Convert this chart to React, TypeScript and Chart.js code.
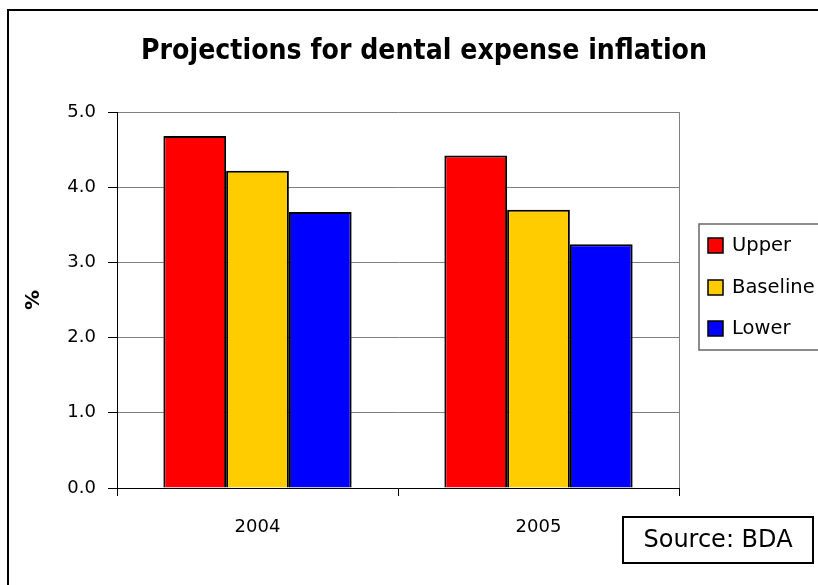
import React, { useEffect, useRef } from "react";
import { Chart, registerables } from "chart.js";

Chart.register(...registerables);

const categories = ["2004", "2005"];
const seriesNames = ["Upper", "Baseline", "Lower"];
const upperValues = [4.68, 4.42];
const baselineValues = [4.22, 3.7];
const lowerValues = [3.67, 3.24];
const seriesColors = ["#FF0000", "#FFCC00", "#0000FF"];
const yMin = 0;
const yMax = 5;
const yStep = 1;
const titleText = "Projections for dental expense inflation";
const yAxisTitle = "%";
const sourceText = "Source: BDA";

const FONT = "'DejaVu Sans', 'Liberation Sans', sans-serif";

const decorPlugin = {
  id: "decor",
  beforeDraw(chart: any) {
    const ctx = chart.ctx;
    ctx.save();
    ctx.fillStyle = "#ffffff";
    ctx.fillRect(0, 0, chart.width, chart.height);
    ctx.restore();
  },
  afterDraw(chart: any) {
    const ctx = chart.ctx;
    const a = chart.chartArea;
    ctx.save();
    // right plot border
    ctx.strokeStyle = "#808080";
    ctx.lineWidth = 1;
    ctx.beginPath();
    ctx.moveTo(Math.round(a.right) + 0.5, a.top);
    ctx.lineTo(Math.round(a.right) + 0.5, a.bottom);
    ctx.stroke();

    // outer frame
    ctx.strokeStyle = "#000000";
    ctx.lineWidth = 2;
    ctx.strokeRect(8, 10, 900, 700);

    // title (fitted to the reference width)
    ctx.fillStyle = "#000000";
    ctx.font = `bold 28px ${FONT}`;
    ctx.textAlign = "center";
    ctx.textBaseline = "alphabetic";
    const tw = ctx.measureText(titleText).width;
    const sx = 566 / tw;
    ctx.save();
    ctx.translate(424, 59);
    ctx.scale(sx, 1);
    ctx.fillText(titleText, 0, 0);
    ctx.restore();

    // y axis title
    ctx.save();
    ctx.translate(34, 300);
    ctx.rotate(-Math.PI / 2);
    ctx.font = `bold 20px ${FONT}`;
    ctx.textAlign = "center";
    ctx.textBaseline = "middle";
    ctx.fillText(yAxisTitle, 0, 0);
    ctx.restore();

    // legend
    ctx.strokeStyle = "#666666";
    ctx.lineWidth = 1.5;
    ctx.strokeRect(699, 224, 200, 126);
    const ys = [245, 287, 328];
    chart.data.datasets.forEach((ds: any, i: number) => {
      const y = ys[i];
      ctx.fillStyle = ds.backgroundColor;
      ctx.fillRect(708, y - 7, 15, 15);
      ctx.strokeStyle = "#000000";
      ctx.lineWidth = 1.5;
      ctx.strokeRect(708, y - 7, 15, 15);
      ctx.fillStyle = "#000000";
      ctx.font = `19.5px ${FONT}`;
      ctx.textAlign = "left";
      ctx.textBaseline = "middle";
      ctx.fillText(ds.label, 732, y + 1);
    });

    // source box
    ctx.strokeStyle = "#000000";
    ctx.lineWidth = 2;
    ctx.strokeRect(623, 517, 190, 46);
    ctx.fillStyle = "#000000";
    ctx.font = `24px ${FONT}`;
    ctx.textAlign = "center";
    ctx.textBaseline = "middle";
    ctx.fillText(sourceText, 718, 541);

    ctx.restore();
  },
};

export default function App() {
  const canvasRef = useRef<HTMLCanvasElement | null>(null);

  useEffect(() => {
    const canvas = canvasRef.current;
    if (!canvas) return;
    const valueSets = [upperValues, baselineValues, lowerValues];
    const chart = new Chart(canvas, {
      type: "bar",
      data: {
        labels: categories,
        datasets: seriesNames.map((name, i) => ({
          label: name,
          data: valueSets[i],
          backgroundColor: seriesColors[i],
          borderColor: "#000000",
          borderWidth: 2,
          categoryPercentage: 0.67,
          barPercentage: 1.0,
        })),
      },
      options: {
        animation: false,
        responsive: false,
        devicePixelRatio: 1,
        layout: { padding: { top: 112, left: 0, right: 139, bottom: 0 } },
        plugins: {
          legend: { display: false },
          title: { display: false },
          tooltip: { enabled: false },
        },
        scales: {
          x: {
            grid: {
              drawOnChartArea: false,
              offset: true,
              tickLength: 8,
              tickColor: "#000000",
            },
            border: { color: "#000000", width: 1 },
            ticks: {
              color: "#000000",
              font: { family: FONT, size: 18 },
              padding: 21,
            },
            afterFit(scale: any) {
              scale.height = 97;
            },
          },
          y: {
            min: yMin,
            max: yMax,
            ticks: {
              stepSize: yStep,
              color: "#000000",
              font: { family: FONT, size: 18 },
              padding: 12,
              callback: (v: any) => Number(v).toFixed(1),
            },
            grid: {
              color: "#808080",
              tickColor: "#000000",
              tickLength: 9,
              lineWidth: 1,
            },
            border: { color: "#000000", width: 1 },
            afterFit(scale: any) {
              scale.width = 117;
            },
          },
        },
      },
      plugins: [decorPlugin],
    });
    return () => chart.destroy();
  }, []);

  return (
    <div style={{ position: "absolute", left: 0, top: 0, width: 818, height: 585 }}>
      <canvas ref={canvasRef} width={818} height={585} style={{ display: "block", width: 818, height: 585 }} />
    </div>
  );
}
